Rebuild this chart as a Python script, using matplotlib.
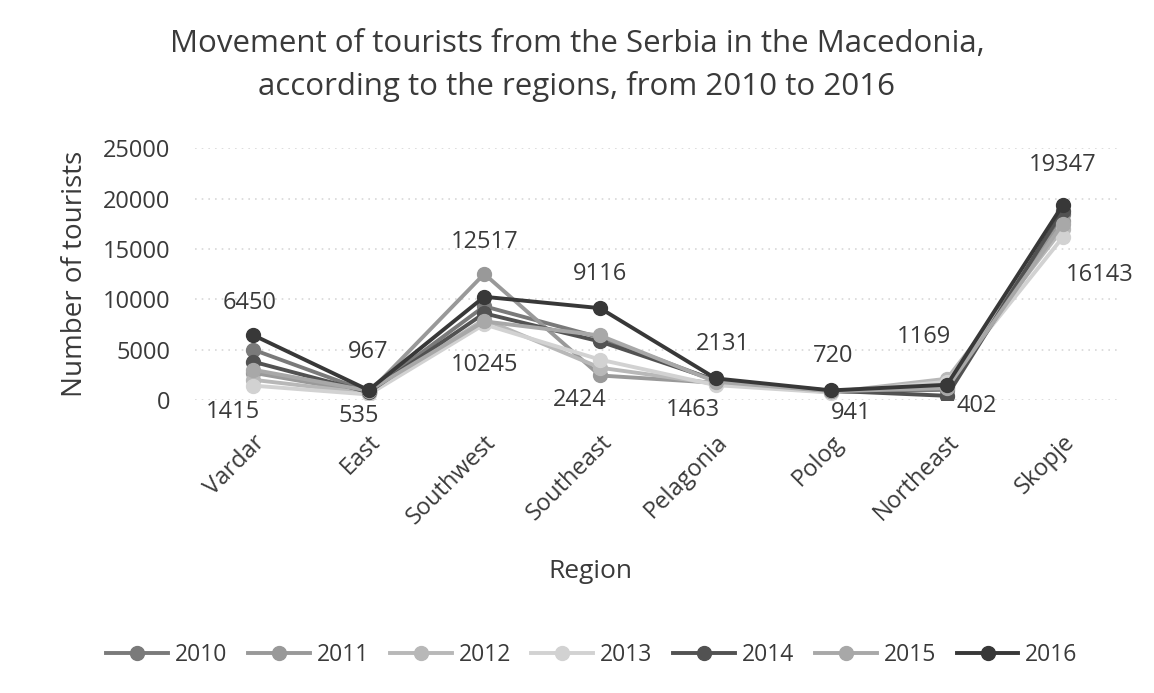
"""Movement of tourists from Serbia in Macedonia by region, 2010-2016 (grayscale line chart)."""

import matplotlib

matplotlib.use("Agg")
import matplotlib.pyplot as plt

# ─── data ────────────────────────────────────────────────────────────────────

regions = ["Vardar", "East", "Southwest", "Southeast", "Pelagonia",
           "Polog", "Northeast", "Skopje"]
years = ["2010", "2011", "2012", "2013", "2014", "2015", "2016"]

v2010 = [5000, 800, 9300, 6200, 1900, 800, 1000, 18500]
v2011 = [2700, 700, 12517, 2424, 1700, 780, 1300, 17800]
v2012 = [2000, 650, 8000, 3200, 1600, 760, 2100, 17000]
v2013 = [1415, 535, 7500, 4000, 1463, 720, 1800, 16143]
v2014 = [3800, 760, 8600, 5800, 1950, 900, 402, 18800]
v2015 = [3000, 900, 7800, 6400, 1800, 850, 1169, 17500]
v2016 = [6450, 967, 10245, 9116, 2131, 941, 1500, 19347]

# data labels shown in the chart (above / below each region's cluster)
top_labels = [6450, 967, 12517, 9116, 2131, 720, 1169, 19347]
bottom_labels = [1415, 535, 10245, 2424, 1463, 941, 402, 16143]

# ─── style ───────────────────────────────────────────────────────────────────

_COLORS = ["#7a7a7a", "#999999", "#b8b8b8", "#d2d2d2", "#525252", "#a8a8a8", "#383838"]
_TEXT = "#3a3a3a"

# label offsets in pixels (dx, dy) relative to the cluster max / min
_TOP_OFF = [(-3, 32), (0, 38), (0, 32), (0, 34), (7, 34), (2, 34), (-23, 42), (0, 40)]
_BOT_OFF = [(-20, -26), (-10, -22), (0, -41), (-20, -25), (-23, -25), (20, -20), (30, -10), (37, -38)]

plt.rcParams["font.family"] = ["Open Sans", "DejaVu Sans"]

fig = plt.figure(figsize=(11.54, 6.93), dpi=100)
ax = fig.add_axes([0.169, 0.423, 0.802, 0.363])

series = [v2010, v2011, v2012, v2013, v2014, v2015, v2016]
x = list(range(len(regions)))
for vals, year, color in zip(series, years, _COLORS):
    ax.plot(x, vals, color=color, lw=2.8, marker="o", markersize=10,
            markerfacecolor=color, markeredgecolor=color, label=year)

col_max = [max(s[i] for s in series) for i in x]
col_min = [min(s[i] for s in series) for i in x]
for i in x:
    dx, dy = _TOP_OFF[i]
    ax.annotate(str(top_labels[i]), (i, col_max[i]), xytext=(dx, dy),
                textcoords="offset pixels", ha="center", va="center",
                fontsize=17, color=_TEXT)
    dx, dy = _BOT_OFF[i]
    ax.annotate(str(bottom_labels[i]), (i, col_min[i]), xytext=(dx, dy),
                textcoords="offset pixels", ha="center", va="center",
                fontsize=17, color=_TEXT)

ax.set_xlim(-0.5, len(regions) - 0.5)
ax.set_ylim(0, 25000)
ax.set_yticks(range(0, 25001, 5000))
ax.grid(axis="y", color="#d8d8d8", linestyle=(0, (1, 3)), lw=1.2)
ax.set_axisbelow(True)
for sp in ax.spines.values():
    sp.set_visible(False)
ax.tick_params(axis="both", length=0, colors=_TEXT, labelsize=17)
ax.tick_params(axis="y", pad=18)
ax.set_xticks(x)
ax.set_xticklabels(regions, rotation=45, ha="right", va="top",
                   rotation_mode="anchor")
ax.tick_params(axis="x", pad=22)
ax.set_ylabel("Number of tourists", fontsize=20, color=_TEXT, labelpad=10)

fig.text(0.5, 0.905, "Movement of tourists from the Serbia in the Macedonia,\n"
         "according to the regions, from 2010 to 2016",
         ha="center", va="center", fontsize=22.5, color=_TEXT, linespacing=1.5)
fig.text(590 / 1154, 1 - 572 / 693, "Region", ha="center", va="center",
         fontsize=19, color=_TEXT)

fig.legend(loc="center", bbox_to_anchor=(592 / 1154, 1 - 655 / 693), ncol=7,
           frameon=False, fontsize=16.5, handlelength=2.7, columnspacing=0.9,
           handletextpad=0.3, labelcolor=_TEXT)

fig.savefig("out.png", dpi=100, facecolor="white")
